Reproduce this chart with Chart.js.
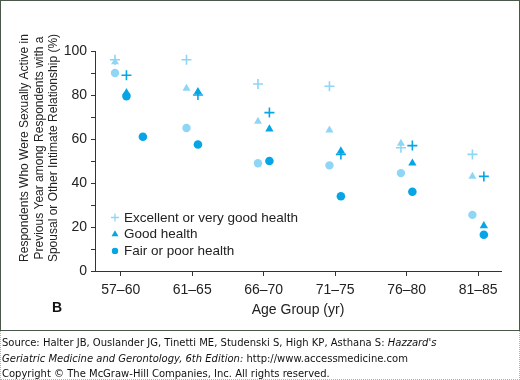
<!DOCTYPE html>
<html><head><meta charset="utf-8">
<script src="https://cdn.jsdelivr.net/npm/chart.js@4"></script>
<style>
html,body{margin:0;padding:0;background:#fff;width:520px;height:380px;overflow:hidden}
#c{position:absolute;left:0;top:0}
#box{position:absolute;left:0;top:0;width:518px;height:329px;border:1px solid #4a574a;pointer-events:none}
#foot{position:absolute;left:0;top:331px;width:518px;height:48px;border-left:1px dotted #b0b0b0;border-right:1px dotted #b0b0b0;border-bottom:1px dotted #b0b0b0;font-family:"DejaVu Sans",sans-serif;font-size:10px;color:#111}
.ln{position:absolute;left:1px;white-space:nowrap;line-height:12px}
</style>
</head><body>
<canvas id="c" width="520" height="330"></canvas>
<div id="box"></div>
<div id="foot">
<div class="ln" style="top:6px">Source: Halter JB, Ouslander JG, Tinetti ME, Studenski S, High KP, Asthana S: <i>Hazzard's</i></div>
<div class="ln" style="top:22px"><i>Geriatric Medicine and Gerontology, 6th Edition:</i> http://www.accessmedicine.com</div>
<div class="ln" style="top:37px">Copyright © The McGraw-Hill Companies, Inc. All rights reserved.</div>
</div>
<script>
// ---- data ----
const categories = ['57–60', '61–65', '66–70', '71–75', '76–80', '81–85'];
const yTicks = [0, 20, 40, 60, 80, 100];
// women (lighter markers, left of tick)
const womenExcellent = [96, 96, 85, 84, 56, 53];
const womenGood      = [95, 83, 68, 64, 58, 43];
const womenFair      = [90, 65, 49, 48, 44.5, 25.5];
// men (darker markers, right of tick)
const menExcellent   = [89, 80, 72, 53, 57, 43];
const menGood        = [81, 81.5, 64.5, 54.5, 49, 20.5];
const menFair        = [79.5, 57.5, 50, 34, 36, 16.5];
// stray point in the first age group
const extraFair      = [61, null, null, null, null, null];
const legendLabels = ['Excellent or very good health', 'Good health', 'Fair or poor health'];
const yTitle = ['Respondents Who Were Sexually Active in', 'Previous Year among Respondents with a', 'Spousal or Other Intimate Relationship (%)'];

// ---- styles ----
const LIGHT = '#8fd6f6';
const DARK = '#06a6e6';
const SHIFT_W = -0.08, SHIFT_M = 0.08, SHIFT_X = 0.31;
const FONT = '"Liberation Sans", Arial, sans-serif';

function pts(arr, shift) {
  return arr.map((v, i) => v == null ? null : ({x: i + 1 + shift, y: v})).filter(p => p);
}
function ds(arr, shift, color, style, r) {
  const cross = style === 'cross';
  return {
    data: pts(arr, shift),
    pointStyle: style,
    pointRadius: r,
    pointHoverRadius: r,
    backgroundColor: color,
    borderColor: color,
    pointBorderWidth: cross ? 1.6 : 0,
    showLine: false
  };
}

const extrasPlugin = {
  id: 'extras',
  afterDraw(chart) {
    const ctx = chart.ctx;
    ctx.save();
    // y axis title (rotated, three lines)
    ctx.fillStyle = '#222';
    ctx.font = '12px ' + FONT;
    ctx.textBaseline = 'middle';
    ctx.textAlign = 'center';
    ctx.translate(0, 148);
    ctx.rotate(-Math.PI / 2);
    yTitle.forEach((t, i) => ctx.fillText(t, 0, 25 + i * 14.5));
    ctx.restore();
    ctx.save();
    // panel letter
    ctx.fillStyle = '#111';
    ctx.font = 'bold 14px ' + FONT;
    ctx.textAlign = 'center';
    ctx.textBaseline = 'middle';
    ctx.fillText('B', 57, 308);
    // legend
    const styles = [
      {pointStyle: 'cross', radius: 4, borderWidth: 1.3, color: LIGHT},
      {pointStyle: 'triangle', radius: 4, borderWidth: 0, color: DARK},
      {pointStyle: 'circle', radius: 3.2, borderWidth: 0, color: DARK}
    ];
    ctx.font = '13.5px ' + FONT;
    ctx.textAlign = 'left';
    legendLabels.forEach((t, i) => {
      const y = 217.5 + i * 16.7;
      const s = styles[i];
      ctx.fillStyle = s.color; ctx.strokeStyle = s.color; ctx.lineWidth = s.borderWidth;
      Chart.helpers.drawPoint(ctx, {pointStyle: s.pointStyle, radius: s.radius, borderWidth: s.borderWidth, rotation: 0}, 115, y);
      ctx.fillStyle = '#222';
      ctx.fillText(t, 124, y + 0.5);
    });
    ctx.restore();
  }
};

new Chart(document.getElementById('c'), {
  type: 'scatter',
  data: {
    datasets: [
      ds(womenFair, SHIFT_W, LIGHT, 'circle', 4.2),
      ds(womenGood, SHIFT_W, LIGHT, 'triangle', 4.6),
      ds(womenExcellent, SHIFT_W, LIGHT, 'cross', 5),
      ds(menFair, SHIFT_M, DARK, 'circle', 4.3),
      ds(extraFair, SHIFT_X, DARK, 'circle', 4.3),
      ds(menGood, SHIFT_M, DARK, 'triangle', 4.8),
      ds(menExcellent, SHIFT_M, DARK, 'cross', 5)
    ]
  },
  options: {
    responsive: false,
    devicePixelRatio: 1,
    animation: false,
    layout: {padding: {left: 0, top: 51, right: 19, bottom: 0}},
    plugins: {legend: {display: false}, tooltip: {enabled: false}},
    scales: {
      x: {
        type: 'linear',
        position: 'bottom',
        min: 0.64,
        max: 6.32,
        afterBuildTicks: s => { s.ticks = categories.map((c, i) => ({value: i + 1})); },
        afterFit: s => { s.height = 59; },
        ticks: {
          callback: v => categories[Math.round(v) - 1] || '',
          font: {family: FONT, size: 14},
          color: '#222',
          padding: 6,
          maxRotation: 0,
          autoSkip: false
        },
        grid: {drawOnChartArea: false, drawTicks: true, tickLength: 5, color: '#333', tickWidth: 1},
        border: {display: true, color: '#333', width: 1},
        title: {display: true, text: 'Age Group (yr)', font: {family: FONT, size: 14}, color: '#222', padding: {top: 0, bottom: 11}}
      },
      y: {
        min: 0,
        max: 100,
        afterFit: s => { s.width = 95; },
        ticks: {
          stepSize: 10,
          callback: v => yTicks.includes(v) ? String(v) : '',
          font: {family: FONT, size: 14},
          color: '#222',
          padding: 4,
          autoSkip: false
        },
        grid: {drawOnChartArea: false, drawTicks: true, tickLength: 4, color: '#333', tickWidth: 1},
        border: {display: true, color: '#333', width: 1}
      }
    }
  },
  plugins: [extrasPlugin]
});
</script>
</body></html>
